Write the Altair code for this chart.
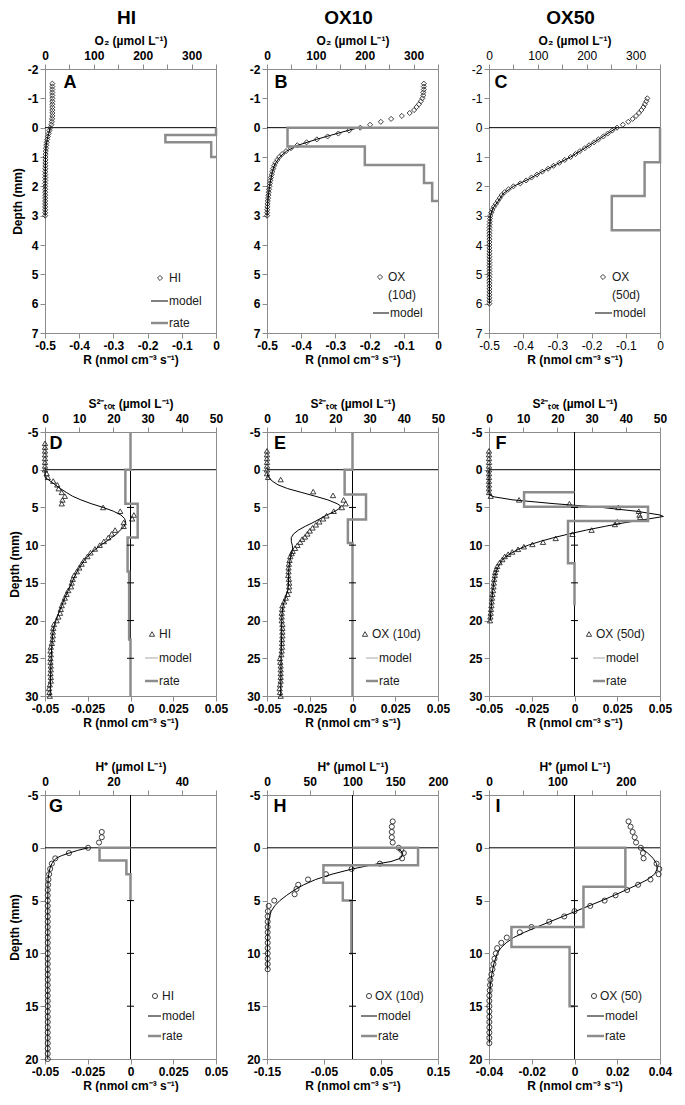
import altair as alt
import pandas as pd

FONT = "Liberation Sans"
FRAME = "#8c8c8c"
RATE_C = "#8c8c8c"
MARK_C = "#2a2a2a"
W = 171
H = 264

O2_TITLE = "O₂ (µmol L⁻¹)"
S_TITLE = "S²⁻ₜₒₜ (µmol L⁻¹)"
H_TITLE = "H⁺ (µmol L⁻¹)"
R_TITLE = "R (nmol cm⁻³ s⁻¹)"

# ---------------- Row 1 : O2 ----------------
A_depth = [-1.5, -1.4, -1.3, -1.2, -1.1, -1.0, -0.9, -0.8, -0.7, -0.6, -0.5, -0.4, -0.3, -0.2, -0.1, 0.0,
           0.1, 0.2, 0.3, 0.4, 0.5, 0.6, 0.7, 0.8, 0.9, 1.0, 1.1, 1.2, 1.3, 1.4, 1.5, 1.6, 1.7, 1.8, 1.9,
           2.0, 2.1, 2.2, 2.3, 2.4, 2.5, 2.6, 2.7, 2.8, 2.9, 3.0]
A_o2 = [15, 15, 15, 15, 15, 15, 15, 15, 15, 15, 15, 15, 14.5, 14, 13, 11,
        9, 7.5, 6, 4.5, 3.5, 2.5, 2, 1.5, 1.2, 1.0, 0.9, 0.8, 0.8, 0.7, 0.7, 0.6, 0.6, 0.6, 0.5,
        0.5, 0.5, 0.5, 0.5, 0.4, 0.4, 0.4, 0.4, 0.4, 0.4, 0.4]
A_mdepth = [0.0, 0.2, 0.4, 0.6, 0.8, 1.0, 1.5, 2.0, 3.0]
A_mo2 = [11, 7.5, 4.5, 2.5, 1.5, 1.0, 0.7, 0.5, 0.4]
A_rtop = [0.0, 0.25, 0.5, 1.0]
A_rate = [0.0, -0.148, -0.014]

B_depth = [-1.5, -1.4, -1.3, -1.2, -1.1, -1.0, -0.9, -0.8, -0.7, -0.6, -0.5, -0.4, -0.3, -0.2, -0.1, 0.0,
           0.1, 0.2, 0.3, 0.4, 0.5, 0.6, 0.7, 0.8, 0.9, 1.0, 1.1, 1.2, 1.3, 1.4, 1.5, 1.6, 1.7, 1.8, 1.9,
           2.0, 2.1, 2.2, 2.3, 2.4, 2.5, 2.6, 2.7, 2.8, 2.9, 3.0]
B_o2 = [321, 321, 321, 320, 320, 318, 315, 311, 306, 301, 292, 276, 254, 233, 211, 191,
        168, 146, 124, 102, 81, 62, 49, 39, 31, 25, 21, 17, 14.5, 12.5, 11, 9.5, 8, 7, 6,
        5, 4.2, 3.5, 2.8, 2.2, 1.6, 1.2, 0.8, 0.5, 0.3, 0.2]
B_mdepth = [0.0, 0.1, 0.2, 0.3, 0.4, 0.5, 0.6, 0.8, 1.0, 1.25, 1.5, 2.0, 2.5, 3.0]
B_mo2 = [188, 165, 143, 122, 101, 82, 63, 40, 26, 16, 11, 5, 1.6, 0.2]
B_rtop = [0.0, 0.64, 1.27, 1.89, 2.5]
B_rate = [-0.44, -0.214, -0.041, -0.017]

C_depth = [-1.0, -0.9, -0.8, -0.7, -0.6, -0.5, -0.4, -0.3, -0.2, -0.1, 0.0, 0.1, 0.2, 0.3, 0.4, 0.5,
           0.6, 0.7, 0.8, 0.9, 1.0, 1.1, 1.2, 1.3, 1.4, 1.5, 1.6, 1.7, 1.8, 1.9, 2.0, 2.1, 2.2, 2.3,
           2.4, 2.5, 2.6, 2.7, 2.8, 2.9, 3.0, 3.1, 3.2, 3.3, 3.4, 3.5, 3.6, 3.7, 3.8, 3.9, 4.0, 4.1,
           4.2, 4.3, 4.4, 4.5, 4.6, 4.7, 4.8, 4.9, 5.0, 5.1, 5.2, 5.3, 5.4, 5.5, 5.6, 5.7, 5.8, 5.9, 6.0]
C_o2 = [324, 322, 319, 316, 312, 307, 301, 294, 285, 274, 262, 252, 243, 234, 224, 215,
        205, 196, 186, 177, 167, 155, 144, 132, 121, 109, 98, 87, 76, 64, 50, 40, 32, 26,
        22, 18, 14, 10, 7, 4.5, 3, 2.0, 1.5, 1.2, 1.0, 1.0, 0.8, 0.8, 0.8, 0.8, 0.8, 0.8,
        0.8, 0.8, 0.8, 0.8, 0.8, 0.8, 0.8, 0.8, 0.8, 0.8, 0.8, 0.8, 0.8, 0.8, 0.8, 0.8, 0.8, 0.8, 0.8]
C_mdepth = [0.0, 0.25, 0.5, 0.75, 1.0, 1.25, 1.5, 1.75, 2.0, 2.25, 2.5, 2.75, 3.0, 3.5, 4.0, 5.0, 6.0]
C_mo2 = [262, 238, 215, 191, 167, 138, 109, 82, 50, 29, 19, 8, 3, 1, 1, 1, 1]
C_rtop = [0.0, 1.18, 2.33, 3.5]
C_rate = [0.0, -0.045, -0.141]

# ---------------- Row 2 : S2- tot ----------------
D_depth = [-3.5, -3.0, -2.5, -2.0, -1.5, -1.0, -0.5, 0.0, 0.5, 1.0, 1.5, 2.0, 2.5, 3.0, 3.5, 4.0, 4.5,
           5.0, 5.5, 6.0, 6.5, 7.0, 7.5, 8.0, 8.5, 9.0, 9.5, 10.0, 10.5, 11.0, 11.5, 12.0, 12.5, 13.0,
           13.5, 14.0, 14.5, 15.0, 15.5, 16.0, 16.5, 17.0, 17.5, 18.0, 18.5, 19.0, 19.5, 20.0, 20.5,
           21.0, 21.5, 22.0, 22.5, 23.0, 23.5, 24.0, 24.5, 25.0, 25.5, 26.0, 26.5, 27.0, 27.5, 28.0,
           28.5, 29.0, 29.5, 30.0]
D_s = [0, 0, 0, 0, 0, 0, 0, 0, 0.5, 0.8, 2.4, 3.6, 4.0, 4.9, 5.8, 5.1, 4.9,
       17.0, 22.0, 26.0, 25.5, 23.0, 23.0, 20.5, 19.5, 18.5, 17.2, 16.0, 14.6, 13.3, 12.4, 11.4, 10.7, 10.0,
       9.3, 8.5, 8.1, 7.8, 7.6, 6.8, 6.3, 5.8, 5.4, 4.9, 4.6, 4.4, 3.9, 3.4, 2.6,
       2.4, 2.3, 2.3, 2.2, 2.0, 1.7, 1.6, 1.7, 1.6, 1.6, 1.7, 1.7, 1.6, 1.7, 1.7,
       1.4, 1.2, 1.3, 1.4]
D_mdepth = [0.0, 1.0, 1.5, 2.0, 2.5, 3.0, 3.5, 4.0, 4.5, 5.0, 5.5, 6.0, 6.5, 7.0, 7.5, 8.0, 8.5, 9.0,
            9.5, 10.0, 11.0, 12.0, 13.0, 14.0, 15.0, 16.0, 17.0, 18.0, 19.0, 20.0, 21.0, 22.0, 24.0,
            26.0, 28.0, 30.0]
D_ms = [0, 0, 1.5, 3.0, 4.5, 6.2, 8.0, 10.5, 13.5, 17.0, 20.0, 22.2, 23.3, 23.6, 23.2, 22.0, 21.0, 19.5,
        18.0, 16.3, 13.5, 11.5, 10.0, 8.8, 7.8, 6.8, 5.8, 4.9, 4.0, 3.2, 2.5, 2.2, 1.9,
        1.7, 1.6, 1.5]
D_rtop = [-5.0, 0.0, 4.5, 9.0, 13.5, 22.5, 30.0]
D_rate = [0.0, -0.003, 0.0042, -0.0017, -0.0008, 0.0]

E_depth = [-2.5, -2.0, -1.5, -1.0, -0.5, 0.0, 0.5, 1.0, 1.3, 2.9, 3.4, 4.0, 4.5, 5.0, 5.5,
           6.1, 6.5, 6.9, 7.3, 7.7, 8.1, 8.5, 8.9, 9.2, 9.6, 10.0, 10.4, 10.8, 11.1, 11.5,
           12.0, 12.5, 13.0, 13.5, 14.0, 14.5, 15.0, 15.5, 16.0, 16.5, 17.0, 17.5, 18.0, 18.5, 19.0,
           19.5, 20.0, 20.5, 21.0, 21.5, 22.0, 22.5, 23.0, 23.5, 24.0, 24.5, 25.0, 25.5, 26.0, 26.5,
           27.0, 27.5, 28.0, 28.5, 29.0, 29.5, 30.0]
E_s = [0, 0, 0, 0, 0, 0, 0, 0.3, 4.0, 13.5, 19.3, 22.4, 23.0, 21.9, 19.5,
       17.4, 16.4, 15.3, 14.3, 13.3, 12.5, 11.8, 11.1, 10.3, 9.7, 8.9, 8.2, 7.5, 7.2, 6.8,
       6.6, 6.4, 6.3, 6.3, 6.2, 6.4, 6.5, 6.5, 6.4, 6.0, 5.5, 5.0, 4.5, 4.4, 4.3,
       4.3, 4.3, 4.5, 4.5, 4.5, 4.5, 4.4, 4.4, 4.4, 4.3, 4.2, 3.8, 3.9, 4.0, 4.0,
       4.0, 4.0, 4.0, 3.8, 3.7, 3.8, 4.0]
E_mdepth = [0.5, 1.0, 1.5, 2.0, 2.5, 3.0, 3.5, 4.0, 4.5, 4.8, 5.2, 5.6, 6.0, 6.5, 7.0, 7.5, 8.0, 8.5,
            9.0, 9.5, 10.0, 10.5, 11.0, 12.0, 13.0, 14.0, 15.0, 16.0, 17.0, 18.0, 19.0, 20.0, 22.0,
            25.0, 30.0]
E_ms = [0, 0.5, 1.5, 3.2, 6.0, 10.0, 14.0, 17.8, 20.5, 21.5, 21.0, 19.5, 17.5, 15.5, 13.5, 11.2, 9.2, 7.8,
        7.1, 7.1, 7.4, 7.5, 7.2, 6.7, 6.4, 6.3, 6.3, 6.1, 5.4, 4.7, 4.4, 4.3, 4.3,
        4.1, 4.0]
E_rtop = [-5.0, 0.0, 3.3, 6.6, 9.7, 30.0]
E_rate = [0.0, -0.0046, 0.0079, -0.0027, 0.0]

F_depth = [-2.5, -2.0, -1.5, -1.0, -0.5, 0.0, 0.5, 1.0, 1.5, 2.0, 2.5, 3.0,
           3.5, 4.0, 4.5, 5.0, 5.5, 6.0, 6.3,
           6.9, 7.25, 8.0, 8.55, 9.1, 9.6, 9.9, 10.2, 10.55, 10.9,
           11.2, 11.5, 11.9, 12.3, 12.8, 13.2, 13.6,
           14.0, 14.5, 15.0, 15.5, 16.0, 16.5, 17.0, 17.5, 18.0, 18.5, 19.0, 19.5, 20.0]
F_s = [0, 0, 0, 0, 0, 0, 0, 0, 0, 0, 0, 0,
       0.5, 8.8, 23.5, 37.8, 43.8, 44.0, 44.2,
       37.5, 36.8, 30.0, 24.4, 19.5, 15.8, 12.7, 10.2, 8.5, 6.8,
       5.6, 4.6, 3.9, 3.1, 2.4, 2.1, 1.8,
       1.7, 1.5, 1.4, 1.3, 1.2, 1.0, 0.9, 0.8, 0.7, 0.6, 0.5, 0.4, 0.3]
F_mdepth = [0.0, 3.3, 3.6, 4.0, 4.5, 5.0, 5.5, 6.0, 6.2, 6.5, 7.0, 7.5, 8.0, 8.5, 9.0, 9.5, 10.0,
            10.5, 11.0, 11.5, 12.0, 13.0, 14.0, 15.0, 16.0, 17.0, 18.0, 19.0, 20.0]
F_ms = [0, 0, 1.5, 7, 19, 33, 43, 50, 51, 47, 40, 34, 28.5, 23.5, 19, 15, 11.5,
        8.8, 6.7, 5.0, 3.8, 2.5, 1.8, 1.4, 1.1, 0.9, 0.7, 0.5, 0.4]
F_rtop = [3.0, 4.9, 6.8, 12.4, 18.0]
F_rate = [-0.0295, 0.043, -0.0038, 0.0]

# ---------------- Row 3 : H+ ----------------
G_depth = [-1.5, -1.0, -0.5, 0.0, 0.5, 1.0, 1.5, 2.0, 2.5, 3.0, 3.5, 4.0, 4.5, 5.0, 5.5, 6.0, 6.5,
           7.0, 7.5, 8.0, 8.5, 9.0, 9.5, 10.0, 10.5, 11.0, 11.5, 12.0, 12.5, 13.0, 13.5, 14.0, 14.5,
           15.0, 15.5, 16.0, 16.5, 17.0, 17.5, 18.0, 18.5, 19.0, 19.5, 20.0]
G_h = [16.6, 16.6, 15.8, 12.6, 7.0, 3.0, 2.0, 1.5, 1.2, 1.0, 0.9, 0.8, 0.8, 0.8, 0.8, 0.8, 0.8,
       0.8, 0.8, 0.8, 0.8, 0.8, 0.8, 0.8, 0.8, 0.8, 0.8, 0.8, 0.8, 0.8, 0.8, 0.8, 0.8,
       0.8, 0.8, 0.8, 0.8, 0.8, 0.8, 0.8, 0.8, 0.8, 0.8, 0.8]
G_mdepth = [0.0, 0.25, 0.5, 0.75, 1.0, 1.5, 2.0, 2.5, 3.0, 5.0, 10.0, 20.0]
G_mh = [12.6, 9.5, 7.0, 4.8, 3.2, 2.0, 1.4, 1.1, 0.9, 0.8, 0.8, 0.8]
G_rtop = [0.0, 1.2, 2.5, 5.0]
G_rate = [-0.0181, -0.0024, 0.0]

H_depth = [-2.5, -2.0, -1.5, -1.0, -0.5, 0.0, 0.2, 0.5, 1.0, 1.5, 2.0, 2.5, 3.0, 3.5, 3.9,
           4.4, 5.0, 5.5, 6.0, 6.5, 7.0, 7.5, 8.0, 8.5, 9.0, 9.5, 10.0, 10.5, 11.0, 11.5]
H_h = [147, 146, 146, 146, 147, 154, 157, 160, 158, 132, 99, 69, 48, 36.5, 34.5,
       32.3, 8.5, 2.0, 1.0, 0.8, 0.8, 0.8, 0.8, 0.8, 0.8, 0.8, 0.8, 0.8, 0.8, 0.8]
H_mdepth = [0.0, 0.3, 0.6, 1.0, 1.3, 1.6, 2.0, 2.5, 3.0, 3.5, 4.0, 4.5, 5.0, 5.5, 6.0, 6.5, 7.0,
            8.0, 9.0, 10.0, 11.5]
H_mh = [152, 157, 159, 156, 145, 124, 100, 76, 57, 43, 32, 23, 15, 9, 5, 3, 2, 1, 0.6, 0.5, 0.4]
H_rtop = [0.0, 1.65, 3.3, 5.0, 10.0]
H_rate = [0.115, -0.051, -0.017, -0.002]

I_depth = [-2.5, -2.0, -1.5, -1.0, -0.5, 0.0, 0.5, 1.0, 1.5, 2.0, 2.5, 3.0, 3.5, 4.0, 4.5, 5.0,
           5.5, 6.0, 6.5, 7.0, 7.5, 8.0, 8.5, 9.0, 9.5, 10.0, 10.5, 11.0, 11.5, 12.0, 12.5, 13.0,
           13.5, 14.0, 14.5, 15.0, 15.5, 16.0, 16.5, 17.0, 17.5, 18.0, 18.5]
I_h = [204, 207, 210, 213, 215, 222, 225, 226, 245, 249, 248, 236, 218, 202, 185, 169,
       148, 125, 110, 88, 62, 45, 26, 18, 12, 10, 8, 6.5, 5, 3.5, 2, 1.5,
       1.0, 0.5, 0.5, 0.5, 0.5, 0.5, 0.5, 0.5, 0.5, 0.5, 0.5]
I_mdepth = [0.0, 0.5, 1.0, 1.5, 2.0, 2.5, 3.0, 3.5, 4.0, 4.5, 5.0, 5.5, 6.0, 6.5, 7.0, 7.5, 8.0,
            8.5, 9.0, 9.5, 10.0, 11.0, 12.0, 13.0, 14.0, 16.0, 18.5]
I_mh = [222, 232, 240, 245, 246, 242, 232, 217, 200, 183, 165, 146, 127, 108, 89, 70, 52,
        36, 25, 17, 12, 7, 4, 2, 1, 0.6, 0.5]
I_rtop = [0.0, 3.7, 7.5, 9.4, 15.0]
I_rate = [0.0238, 0.0042, -0.0295, -0.0023]

# ---------------- axis tick lists ----------------
Y1_TICKS = [-2, -1, 0, 1, 2, 3, 4, 5, 6, 7]
Y2_TICKS = [-5, 0, 5, 10, 15, 20, 25, 30]
Y3_TICKS = [-5, 0, 5, 10, 15, 20]
O2_TICKS = [0, 50, 100, 150, 200, 250, 300, 350]
R1_TICKS = [-0.5, -0.4, -0.3, -0.2, -0.1, 0]
S_TICKS = [0, 10, 20, 30, 40, 50]
R2_TICKS = [-0.05, -0.025, 0, 0.025, 0.05]
HG_TICKS = [0, 10, 20, 30, 40, 50]
HH_TICKS = [0, 50, 100, 150, 200]
HI_TICKS = [0, 50, 100, 150, 200, 250]
RH_TICKS = [-0.15, -0.05, 0.05, 0.15]
RI_TICKS = [-0.04, -0.02, 0, 0.02, 0.04]


def lab_expr(mod=None):
    base = "(datum.value < 0 ? '-' + format(-datum.value, '') : format(datum.value, ''))"
    if mod is None:
        return base
    return "(abs(datum.value % " + str(mod) + ") < 0.000001) ? " + base + " : ''"


def step_frame(tops, rates):
    rows = [(0.0, tops[0])]
    for k, r in enumerate(rates):
        rows.append((r, tops[k]))
        rows.append((r, tops[k + 1]))
    rows.append((0.0, tops[-1]))
    return pd.DataFrame({"r": [a for a, _ in rows], "depth": [b for _, b in rows],
                         "i": list(range(len(rows)))})


def build_panel(P):
    lw = P["lw"]
    ys = alt.Y("depth:Q",
               scale=alt.Scale(domain=P["ydom"], reverse=True, nice=False, zero=False),
               axis=alt.Axis(values=P["yticks"], title=P["ytitle"], labelExpr=lab_expr(),
                             labelFontWeight=lw, titlePadding=3))
    xc = alt.X("c:Q", scale=alt.Scale(domain=P["cdom"], nice=False, zero=False),
               axis=alt.Axis(orient="top", title=P["ctitle"], values=P["cticks"],
                             labelExpr=lab_expr(P["cmod"]), labelFontWeight=lw, titlePadding=2))
    xr = alt.X("r:Q", scale=alt.Scale(domain=P["rdom"], nice=False, zero=False),
               axis=alt.Axis(orient="bottom", title=R_TITLE, values=P["rticks"],
                             labelExpr=lab_expr(), labelFontWeight=lw, titlePadding=3))

    pts = pd.DataFrame({"depth": P["depth"], "c": P["conc"]})
    mdl = pd.DataFrame({"depth": P["mdepth"], "c": P["mconc"], "i": list(range(len(P["mdepth"])))})
    stp = step_frame(P["rtop"], P["rate"])

    hline = alt.Chart(pd.DataFrame({"depth": [0.0]})).mark_rule(color="black", strokeWidth=1).encode(y=ys)
    markers = alt.Chart(pts).mark_point(shape=P["shape"], filled=False, size=P["msize"],
                                        color=MARK_C, strokeWidth=0.9, opacity=1).encode(x=xc, y=ys)
    model = alt.Chart(mdl).mark_line(color="black", strokeWidth=1).encode(x=xc, y=ys, order="i:Q")
    conc_layer = alt.layer(hline, markers, model)

    rate_parts = []
    if P["vline"]:
        rate_parts.append(alt.Chart(pd.DataFrame({"r": [0.0]})).mark_rule(color="black", strokeWidth=1)
                          .encode(x=xr))
    rate_parts.append(alt.Chart(stp).mark_line(color=RATE_C, strokeWidth=2.5, strokeJoin="miter")
                      .encode(x=xr, y=ys, order="i:Q"))
    if P["vline"]:
        tk = [v for v in P["yticks"] if v != 0 and v != P["ydom"][0] and v != P["ydom"][1]]
        rate_parts.append(alt.Chart(pd.DataFrame({"r": [0.0] * len(tk), "depth": tk}))
                          .mark_point(shape="M-1,0L1,0", size=49, filled=False, color="black",
                                      strokeWidth=1, opacity=1)
                          .encode(x=xr, y=ys))
    rate_layer = alt.layer(*rate_parts)

    extras = []
    L = P["legend"]
    for kind, label, yy in L["items"]:
        df = pd.DataFrame({"t": [label]})
        if kind == "sym":
            extras.append(alt.Chart(df).mark_point(shape=P["shape"], filled=False, size=P["msize"],
                                                   color=MARK_C, strokeWidth=0.9, opacity=1)
                          .encode(x=alt.value(L["sx"]), y=alt.value(yy)))
            tx = L["tx"]
        elif kind == "text":
            tx = L["tx"]
        elif kind == "model":
            extras.append(alt.Chart(df).mark_rule(color=L["mcolor"], strokeWidth=1)
                          .encode(x=alt.value(L["lx"][0]), x2=alt.value(L["lx"][1]), y=alt.value(yy)))
            tx = L["lx"][1] + 1
        else:
            extras.append(alt.Chart(df).mark_rule(color=RATE_C, strokeWidth=2.5)
                          .encode(x=alt.value(L["lx"][0]), x2=alt.value(L["lx"][1]), y=alt.value(yy)))
            tx = L["lx"][1] + 1
        extras.append(alt.Chart(df).mark_text(align="left", baseline="middle", font=FONT, fontSize=12,
                                              color="#1a1a1a")
                      .encode(x=alt.value(tx), y=alt.value(yy), text="t:N"))

    extras.append(alt.Chart(pd.DataFrame({"t": [P["letter"]]}))
                  .mark_text(align="center", baseline="middle", font=FONT, fontSize=18,
                             fontWeight="bold", color="black")
                  .encode(x=alt.value(P["lpos"][0]), y=alt.value(P["lpos"][1]), text="t:N"))

    if P.get("header"):
        extras.append(alt.Chart(pd.DataFrame({"t": [P["header"]]}))
                      .mark_text(align="center", baseline="middle", font=FONT, fontSize=19,
                                 fontWeight="bold", color="black")
                      .encode(x=alt.value(W / 2 - 4), y=alt.value(-51), text="t:N"))

    return (alt.layer(conc_layer, rate_layer, *extras).resolve_scale(x="independent")
            .properties(width=W, height=H))


def leg(sx, tx, lx, items, mcolor="black"):
    return {"sx": sx, "tx": tx, "lx": lx, "items": items, "mcolor": mcolor}


panels = {
    "A": dict(depth=A_depth, conc=A_o2, mdepth=A_mdepth, mconc=A_mo2, rtop=A_rtop, rate=A_rate,
              ydom=[-2, 7], yticks=Y1_TICKS, ytitle="Depth (mm)", cdom=[0, 350], cticks=O2_TICKS, cmod=100,
              ctitle=O2_TITLE, rdom=[-0.5, 0], rticks=R1_TICKS, shape="diamond", msize=26, lw="bold",
              vline=False, letter="A", lpos=(25, 14), header="HI",
              legend=leg(115, 124, (106, 123), [("sym", "HI", 209), ("model", "model", 232), ("rate", "rate", 254)])),
    "B": dict(depth=B_depth, conc=B_o2, mdepth=B_mdepth, mconc=B_mo2, rtop=B_rtop, rate=B_rate,
              ydom=[-2, 7], yticks=Y1_TICKS, ytitle="", cdom=[0, 350], cticks=O2_TICKS, cmod=100,
              ctitle=O2_TITLE, rdom=[-0.5, 0], rticks=R1_TICKS, shape="diamond", msize=26, lw="bold",
              vline=False, letter="B", lpos=(14, 14), header="OX10",
              legend=leg(113, 121, (106, 122), [("sym", "OX", 208), ("text", "(10d)", 226), ("model", "model", 244)])),
    "C": dict(depth=C_depth, conc=C_o2, mdepth=C_mdepth, mconc=C_mo2, rtop=C_rtop, rate=C_rate,
              ydom=[-2, 7], yticks=Y1_TICKS, ytitle="", cdom=[0, 350], cticks=O2_TICKS, cmod=100,
              ctitle=O2_TITLE, rdom=[-0.5, 0], rticks=R1_TICKS, shape="diamond", msize=26, lw="normal",
              vline=False, letter="C", lpos=(12, 14), header="OX50",
              legend=leg(114, 123, (106, 123), [("sym", "OX", 208), ("text", "(50d)", 226), ("model", "model", 244)])),
    "D": dict(depth=D_depth, conc=D_s, mdepth=D_mdepth, mconc=D_ms, rtop=D_rtop, rate=D_rate,
              ydom=[-5, 30], yticks=Y2_TICKS, ytitle="Depth (mm)", cdom=[0, 50], cticks=S_TICKS, cmod=None,
              ctitle=S_TITLE, rdom=[-0.05, 0.05], rticks=R2_TICKS, shape="triangle-up", msize=28, lw="bold",
              vline=True, letter="D", lpos=(11, 12),
              legend=leg(107, 114, (100, 113), [("sym", "HI", 202), ("model", "model", 226), ("rate", "rate", 249)],
                         mcolor="#a8a8a8")),
    "E": dict(depth=E_depth, conc=E_s, mdepth=E_mdepth, mconc=E_ms, rtop=E_rtop, rate=E_rate,
              ydom=[-5, 30], yticks=Y2_TICKS, ytitle="", cdom=[0, 50], cticks=S_TICKS, cmod=None,
              ctitle=S_TITLE, rdom=[-0.05, 0.05], rticks=R2_TICKS, shape="triangle-up", msize=28, lw="bold",
              vline=True, letter="E", lpos=(13, 12),
              legend=leg(98, 105, (99, 111), [("sym", "OX (10d)", 202), ("model", "model", 226), ("rate", "rate", 249)],
                         mcolor="#a8a8a8")),
    "F": dict(depth=F_depth, conc=F_s, mdepth=F_mdepth, mconc=F_ms, rtop=F_rtop, rate=F_rate,
              ydom=[-5, 30], yticks=Y2_TICKS, ytitle="", cdom=[0, 50], cticks=S_TICKS, cmod=None,
              ctitle=S_TITLE, rdom=[-0.05, 0.05], rticks=R2_TICKS, shape="triangle-up", msize=28, lw="bold",
              vline=True, letter="F", lpos=(12, 12),
              legend=leg(100, 107, (104, 116), [("sym", "OX (50d)", 202), ("model", "model", 226), ("rate", "rate", 249)],
                         mcolor="#a8a8a8")),
    "G": dict(depth=G_depth, conc=G_h, mdepth=G_mdepth, mconc=G_mh, rtop=G_rtop, rate=G_rate,
              ydom=[-5, 20], yticks=Y3_TICKS, ytitle="Depth (mm)", cdom=[0, 50], cticks=HG_TICKS, cmod=20,
              ctitle=H_TITLE, rdom=[-0.05, 0.05], rticks=R2_TICKS, shape="circle", msize=26, lw="bold",
              vline=True, letter="G", lpos=(11, 12),
              legend=leg(110, 117, (103, 116), [("sym", "HI", 201), ("model", "model", 221), ("rate", "rate", 241)])),
    "H": dict(depth=H_depth, conc=H_h, mdepth=H_mdepth, mconc=H_mh, rtop=H_rtop, rate=H_rate,
              ydom=[-5, 20], yticks=Y3_TICKS, ytitle="", cdom=[0, 200], cticks=HH_TICKS, cmod=None,
              ctitle=H_TITLE, rdom=[-0.15, 0.15], rticks=RH_TICKS, shape="circle", msize=26, lw="bold",
              vline=True, letter="H", lpos=(13, 12),
              legend=leg(102, 108, (94, 110), [("sym", "OX (10d)", 201), ("model", "model", 221), ("rate", "rate", 241)])),
    "I": dict(depth=I_depth, conc=I_h, mdepth=I_mdepth, mconc=I_mh, rtop=I_rtop, rate=I_rate,
              ydom=[-5, 20], yticks=Y3_TICKS, ytitle="", cdom=[0, 250], cticks=HI_TICKS, cmod=100,
              ctitle=H_TITLE, rdom=[-0.04, 0.04], rticks=RI_TICKS, shape="circle", msize=26, lw="bold",
              vline=True, letter="I", lpos=(9, 12),
              legend=leg(105, 111, (98, 115), [("sym", "OX (50)", 201), ("model", "model", 221), ("rate", "rate", 241)])),
}

cells = [build_panel(panels[k]) for k in ["A", "B", "C", "D", "E", "F", "G", "H", "I"]]
chart = alt.concat(*cells, columns=3, spacing={"row": 99, "column": 51},
                   bounds="flush").properties(padding=0)

chart = (chart
         .configure_view(stroke=FRAME, strokeWidth=1)
         .configure_axis(grid=False, domainColor=FRAME, tickColor=FRAME, domainWidth=1, tickWidth=1,
                         tickSize=5, labelPadding=2, labelFont=FONT, titleFont=FONT, labelFontSize=12,
                         titleFontSize=12, titleFontWeight="bold", labelColor="black", titleColor="black",
                         labelFlush=False, labelOverlap=False)
         .configure_text(font=FONT)
         .configure_title(font=FONT))

chart.save("out.html", embed_options={"renderer": "svg", "actions": False})
